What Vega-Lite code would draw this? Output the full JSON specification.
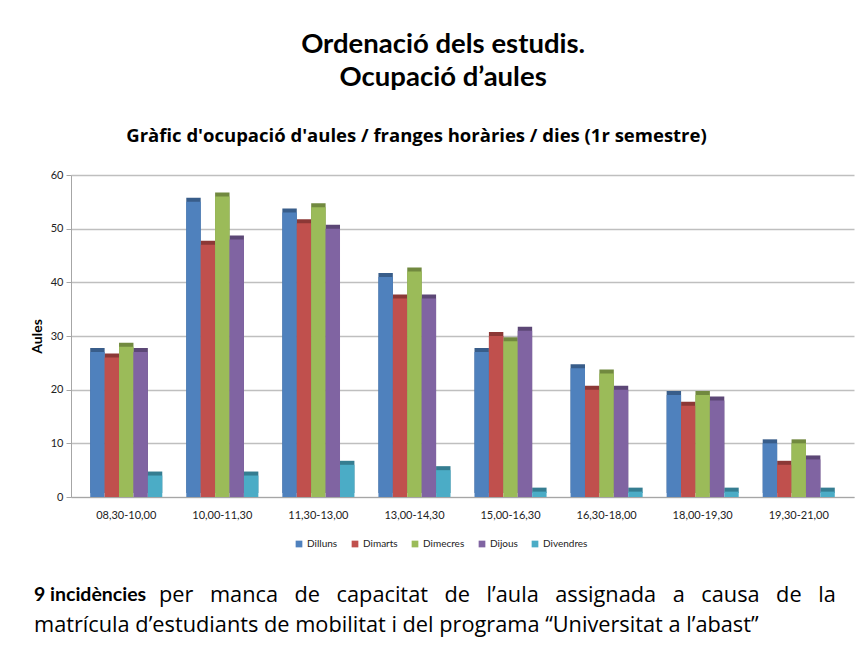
{
  "$schema": "https://vega.github.io/schema/vega-lite/v6.json",
  "background": "white",
  "padding": {"left": 30, "top": 31, "right": 5, "bottom": 5},
  "config": {"font": "Lato", "view": {"stroke": null}},
  "title": {
    "text": ["Ordenació dels estudis.", "Ocupació d’aules"],
    "font": "Lato", "fontSize": 27.5, "fontWeight": "bold", "color": "#000000",
    "anchor": "middle", "lineHeight": 33, "offset": 35, "dx": 1
  },
  "datasets": {
    "aules": [
      {"franja": "08,30-10,00", "dia": "Dilluns", "aules": 27},
      {"franja": "08,30-10,00", "dia": "Dimarts", "aules": 26},
      {"franja": "08,30-10,00", "dia": "Dimecres", "aules": 28},
      {"franja": "08,30-10,00", "dia": "Dijous", "aules": 27},
      {"franja": "08,30-10,00", "dia": "Divendres", "aules": 4},
      {"franja": "10,00-11,30", "dia": "Dilluns", "aules": 55},
      {"franja": "10,00-11,30", "dia": "Dimarts", "aules": 47},
      {"franja": "10,00-11,30", "dia": "Dimecres", "aules": 56},
      {"franja": "10,00-11,30", "dia": "Dijous", "aules": 48},
      {"franja": "10,00-11,30", "dia": "Divendres", "aules": 4},
      {"franja": "11,30-13,00", "dia": "Dilluns", "aules": 53},
      {"franja": "11,30-13,00", "dia": "Dimarts", "aules": 51},
      {"franja": "11,30-13,00", "dia": "Dimecres", "aules": 54},
      {"franja": "11,30-13,00", "dia": "Dijous", "aules": 50},
      {"franja": "11,30-13,00", "dia": "Divendres", "aules": 6},
      {"franja": "13,00-14,30", "dia": "Dilluns", "aules": 41},
      {"franja": "13,00-14,30", "dia": "Dimarts", "aules": 37},
      {"franja": "13,00-14,30", "dia": "Dimecres", "aules": 42},
      {"franja": "13,00-14,30", "dia": "Dijous", "aules": 37},
      {"franja": "13,00-14,30", "dia": "Divendres", "aules": 5},
      {"franja": "15,00-16,30", "dia": "Dilluns", "aules": 27},
      {"franja": "15,00-16,30", "dia": "Dimarts", "aules": 30},
      {"franja": "15,00-16,30", "dia": "Dimecres", "aules": 29},
      {"franja": "15,00-16,30", "dia": "Dijous", "aules": 31},
      {"franja": "15,00-16,30", "dia": "Divendres", "aules": 1},
      {"franja": "16,30-18,00", "dia": "Dilluns", "aules": 24},
      {"franja": "16,30-18,00", "dia": "Dimarts", "aules": 20},
      {"franja": "16,30-18,00", "dia": "Dimecres", "aules": 23},
      {"franja": "16,30-18,00", "dia": "Dijous", "aules": 20},
      {"franja": "16,30-18,00", "dia": "Divendres", "aules": 1},
      {"franja": "18,00-19,30", "dia": "Dilluns", "aules": 19},
      {"franja": "18,00-19,30", "dia": "Dimarts", "aules": 17},
      {"franja": "18,00-19,30", "dia": "Dimecres", "aules": 19},
      {"franja": "18,00-19,30", "dia": "Dijous", "aules": 18},
      {"franja": "18,00-19,30", "dia": "Divendres", "aules": 1},
      {"franja": "19,30-21,00", "dia": "Dilluns", "aules": 10},
      {"franja": "19,30-21,00", "dia": "Dimarts", "aules": 6},
      {"franja": "19,30-21,00", "dia": "Dimecres", "aules": 10},
      {"franja": "19,30-21,00", "dia": "Dijous", "aules": 7},
      {"franja": "19,30-21,00", "dia": "Divendres", "aules": 1}
    ],
    "nota": [
      {"linia": 1, "part": "negreta", "text": "9 incidències"},
      {"linia": 1, "part": "normal", "text": "per\u2002 manca\u2002 de\u2002 capacitat\u2002 de\u2002 l’aula\u2002 assignada\u2002 a\u2002 causa\u2002 de\u2002 la"},
      {"linia": 2, "part": "segona", "text": "matrícula d’estudiants de mobilitat i del programa  “Universitat a l’abast”"}
    ]
  },
  "spacing": 31,
  "resolve": {"legend": {"fill": "independent", "color": "independent"}},
  "vconcat": [
    {
      "title": {
        "text": "Gràfic d'ocupació d'aules / franges horàries / dies (1r semestre)",
        "font": "Open Sans", "fontSize": 18.5, "fontWeight": "bold", "color": "#000000",
        "anchor": "middle", "offset": 24, "dx": -46
      },
      "width": 783,
      "height": 322,
      "data": {"name": "aules"},
      "encoding": {
        "x": {
          "field": "franja", "type": "nominal", "sort": null,
          "scale": {"paddingInner": 0.25, "paddingOuter": 0.2},
          "axis": {"title": null, "labelAngle": 0, "labelFontSize": 11, "labelColor": "#222222",
                   "labelPadding": 12, "ticks": false, "domainColor": "#A6A6A6", "labelFont": "Lato"}
        },
        "y": {
          "field": "aules", "type": "quantitative",
          "scale": {"domain": [0, 60]},
          "axis": {"title": "Aules", "titleFontSize": 14, "titleFontWeight": "bold", "titleColor": "#000000",
                   "titlePadding": 6, "values": [0, 10, 20, 30, 40, 50, 60], "labelFontSize": 11,
                   "labelColor": "#222222", "gridColor": "#BFBFBF", "gridWidth": 1.5,
                   "domainColor": "#A6A6A6", "tickColor": "#A6A6A6", "tickSize": 5, "labelPadding": 3}
        },
        "xOffset": {"field": "dia", "type": "nominal",
                    "sort": ["Dilluns", "Dimarts", "Dimecres", "Dijous", "Divendres"]}
      },
      "layer": [
        {
          "mark": {"type": "bar", "xOffset": 5, "yOffset": -4},
          "encoding": {
            "color": {"field": "dia", "type": "nominal", "legend": null,
                      "scale": {"domain": ["Dilluns", "Dimarts", "Dimecres", "Dijous", "Divendres"],
                                "range": ["#385D8A", "#8C3836", "#71893F", "#5C4776", "#357D91"]}}
          }
        },
        {
          "mark": {"type": "bar"},
          "encoding": {
            "fill": {"field": "dia", "type": "nominal",
                     "scale": {"domain": ["Dilluns", "Dimarts", "Dimecres", "Dijous", "Divendres"],
                               "range": ["#4F81BD", "#C0504D", "#9BBB59", "#8064A2", "#4BACC6"]},
                     "legend": {"title": null, "orient": "none", "legendX": 223, "legendY": 364,
                                "direction": "horizontal",
                                "symbolType": "square", "symbolSize": 45, "labelFontSize": 10,
                                "labelColor": "#222222", "columnPadding": 12,
                                "symbolStrokeWidth": 0, "labelFont": "Lato", "labelOffset": 3}}
          }
        }
      ],
      "resolve": {"scale": {"color": "independent"}}
    },
    {
      "width": 783,
      "height": 60,
      "data": {"name": "nota"},
      "encoding": {
        "y": {"field": "linia", "type": "ordinal", "axis": null, "scale": {"padding": 0.5}}
      },
      "layer": [
        {
          "transform": [{"filter": "datum.part === 'negreta'"}],
          "mark": {"type": "text", "align": "left", "fontSize": 19.5, "fontWeight": "bold", "font": "Lato", "color": "#000000", "x": 0, "dx": -37},
          "encoding": {"text": {"field": "text"}}
        },
        {
          "transform": [{"filter": "datum.part === 'normal'"}],
          "mark": {"type": "text", "align": "left", "fontSize": 21.75, "font": "Open Sans", "color": "#000000", "x": 0, "dx": 88},
          "encoding": {"text": {"field": "text"}}
        },
        {
          "transform": [{"filter": "datum.part === 'segona'"}],
          "mark": {"type": "text", "align": "left", "fontSize": 21.75, "font": "Open Sans", "color": "#000000", "x": 0, "dx": -37},
          "encoding": {"text": {"field": "text"}}
        }
      ]
    }
  ]
}
